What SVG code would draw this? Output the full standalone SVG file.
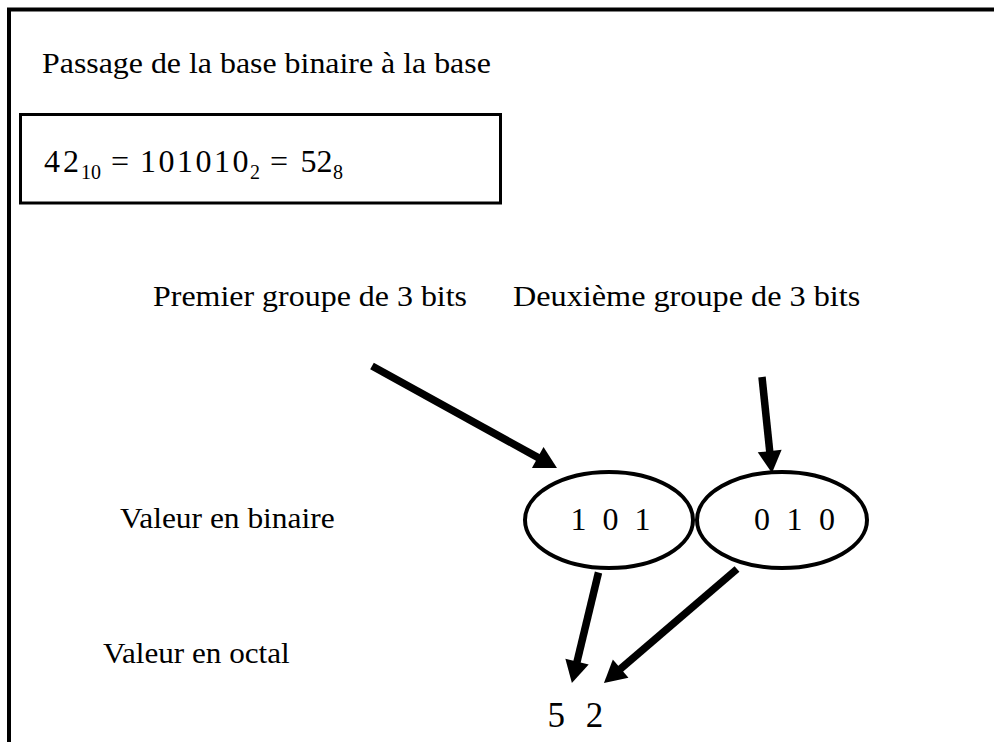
<svg xmlns="http://www.w3.org/2000/svg" width="994" height="742" viewBox="0 0 994 742">
  <style>
    text { font-family: "Liberation Serif", "Times New Roman", serif; fill: #000; }
    .lbl { font-size: 30px; }
    .frame { fill: none; stroke: #000; }
    .oval { fill: #fff; stroke: #000; stroke-width: 4; }
    .arrow { fill: none; stroke: #000; stroke-width: 7.5; marker-end: url(#head); }
  </style>
  <defs>
    <marker id="head" markerUnits="userSpaceOnUse" viewBox="0 0 22 24" markerWidth="22" markerHeight="24" refX="1" refY="12" orient="auto" overflow="visible">
      <path d="M0,0 L22,12 L0,24 Z" fill="#000"/>
    </marker>
  </defs>
  <rect width="994" height="742" fill="#fff"/>

  <g id="outer-frame">
    <path class="frame" stroke-width="4" d="M9,742 L9,9.5 L994,9.5"/>
  </g>

  <g id="title">
    <text transform="translate(42,73) scale(1.1,1)" font-size="29">Passage de la base binaire à la base</text>
  </g>

  <g id="formula-box">
    <rect class="frame" stroke-width="3" x="20.5" y="114.5" width="480" height="88.5"/>
    <text y="172" font-size="32"><tspan x="44" letter-spacing="3">42</tspan><tspan x="81" dy="7" font-size="20">10</tspan><tspan x="111" dy="-7">=</tspan><tspan x="140" letter-spacing="2.5">101010</tspan><tspan x="250" dy="7" font-size="20">2</tspan><tspan x="270" dy="-7">=</tspan><tspan x="300.5">52</tspan><tspan x="333" dy="7" font-size="20">8</tspan></text>
  </g>

  <g id="label-premier">
    <text class="lbl" transform="translate(153,306) scale(1.065,1)">Premier groupe de 3 bits</text>
  </g>
  <g id="label-deuxieme">
    <text class="lbl" transform="translate(513,306) scale(1.075,1)">Deuxième groupe de 3 bits</text>
  </g>

  <g id="label-binaire">
    <text class="lbl" transform="translate(120,528) scale(1.048,1)">Valeur en binaire</text>
  </g>
  <g id="label-octal">
    <text class="lbl" transform="translate(103,663) scale(1.038,1)">Valeur en octal</text>
  </g>

  <g id="node-101">
    <ellipse class="oval" cx="609" cy="520" rx="84" ry="48"/>
    <text x="570.5" y="530" font-size="32" word-spacing="8">1 0 1</text>
  </g>
  <g id="node-010">
    <ellipse class="oval" cx="782" cy="520" rx="85" ry="48"/>
    <text x="754" y="530" font-size="32" word-spacing="8.5">0 1 0</text>
  </g>

  <g id="node-52">
    <text x="547.5" y="727" font-size="35" word-spacing="12">5 2</text>
  </g>

  <g id="connectors">
    <path class="arrow" d="M372,366 L538.6,457.9"/>
    <path class="arrow" d="M762,377 L769.8,452.1"/>
    <path class="arrow" d="M598.5,572.5 L576.8,662.6"/>
    <path class="arrow" d="M737,569 L619.9,669.3"/>
  </g>
</svg>
